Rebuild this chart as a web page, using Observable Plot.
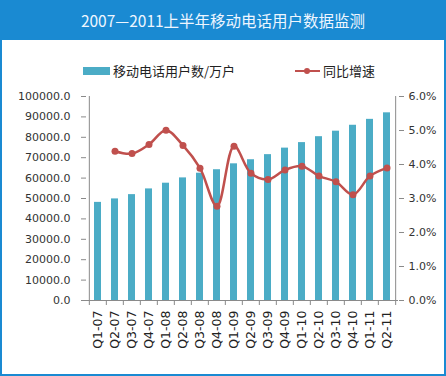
<!DOCTYPE html>
<html><head><meta charset="utf-8">
<script src="https://cdn.jsdelivr.net/npm/d3@7"></script>
<script src="https://cdn.jsdelivr.net/npm/@observablehq/plot@0.6"></script>
<style>
body{margin:0;background:#fff;}
#wrap{position:relative;width:446px;height:376px;box-sizing:border-box;border:2px solid #1a8ad2;border-top:none;background:#fff;overflow:hidden;}
#title{position:absolute;left:-2px;top:0;width:446px;height:40px;background:#1a8ad2;color:#eef6ff;font-family:"Noto Sans CJK SC",sans-serif;font-size:15.5px;line-height:40px;text-align:center;}
.leg{position:absolute;font-family:"Noto Sans CJK SC",sans-serif;font-size:13px;color:#222;line-height:16px;}
#chart{position:absolute;left:0;top:84px;}
</style></head>
<body>
<div id="wrap">
  <div id="title">2007—2011上半年移动电话用户数据监测</div>
  <div style="position:absolute;left:81px;top:67px;width:27px;height:8px;background:#4bacc6;"></div>
  <div class="leg" style="left:111px;top:63px;">移动电话用户数/万户</div>
  <div style="position:absolute;left:293px;top:70px;width:25px;height:2px;background:#c0504d;"></div>
  <div style="position:absolute;left:302px;top:68px;width:6px;height:6px;border-radius:3px;background:#c0504d;"></div>
  <div class="leg" style="left:321px;top:63px;">同比增速</div>
  <div id="chart"></div>
</div>
<script>
const quarters = ["Q1-07","Q2-07","Q3-07","Q4-07","Q1-08","Q2-08","Q3-08","Q4-08","Q1-09","Q2-09","Q3-09","Q4-09","Q1-10","Q2-10","Q3-10","Q4-10","Q1-11","Q2-11"];
const users = [48100,49800,51900,54700,57500,60100,62400,64100,67000,69000,71500,74700,77400,80300,83000,85900,88800,92000];
const growth = [null,4.39,4.32,4.59,5.01,4.56,3.89,2.77,4.54,3.74,3.56,3.84,3.95,3.66,3.49,3.11,3.66,3.90];
const leftTicks = [0,10000,20000,30000,40000,50000,60000,70000,80000,90000,100000];
const rightTicks = [0,1,2,3,4,5,6];

const yMax = 100000, rMax = 6;
const toY = r => r / rMax * yMax;
const barData = quarters.map((q,i)=>({q, v: users[i]}));
const lineData = quarters.map((q,i)=>({q, r: growth[i]})).filter(d=>d.r!=null);

const W = 442, ML = 84, MR = 46, MT = 12, MB = 74, H = 290;
const step = (W - ML - MR) / quarters.length;
const axisColor = "#8a8a8a";
const font = "DejaVu Sans, sans-serif";

const chart = Plot.plot({
  width: W, height: H,
  marginLeft: ML, marginRight: MR, marginTop: MT, marginBottom: MB,
  style: {fontFamily: font, fontSize: "11px", color: "#333", background: "transparent"},
  x: {domain: quarters, paddingInner: 0.6, paddingOuter: 0.3, axis: null, label: null},
  y: {domain: [0, yMax], axis: null, label: null},
  marks: [
    Plot.barY(barData, {x: "q", y: "v", fill: "#4bacc6"}),
    Plot.ruleY([0], {stroke: axisColor}),
    Plot.ruleX([quarters[0]], {dx: -step/2, stroke: axisColor, y1: 0, y2: yMax}),
    Plot.ruleX([quarters[quarters.length-1]], {dx: step/2, stroke: axisColor, y1: 0, y2: yMax}),
    Plot.axisY({anchor: "left", label: null, ticks: leftTicks, tickSize: 5, tickPadding: 11, stroke: axisColor, tickFormat: d => d.toFixed(1), fill: "#333"}),
    Plot.axisY({anchor: "right", label: null, ticks: rightTicks.map(toY), tickSize: 5, tickPadding: 5, stroke: axisColor, tickFormat: d => (d / yMax * rMax).toFixed(1) + "%", fill: "#333"}),
    Plot.axisX({label: null, ticks: quarters, tickSize: 5, tickFormat: () => "", dx: -step/2, stroke: axisColor}),
    Plot.axisX({label: null, ticks: [quarters[quarters.length-1]], tickSize: 5, tickFormat: () => "", dx: step/2, stroke: axisColor}),
    Plot.axisX({label: null, ticks: quarters, tickSize: 0, tickPadding: 10, tickRotate: -90, fontSize: 12.5, fill: "#222"}),
    Plot.line(lineData, {x: "q", y: d => toY(d.r), stroke: "#c0504d", strokeWidth: 2.5, curve: "catmull-rom"}),
    Plot.dot(lineData, {x: "q", y: d => toY(d.r), r: 3.5, fill: "#c0504d", stroke: "none"})
  ]
});
document.getElementById("chart").appendChild(chart);
</script>
</body></html>
